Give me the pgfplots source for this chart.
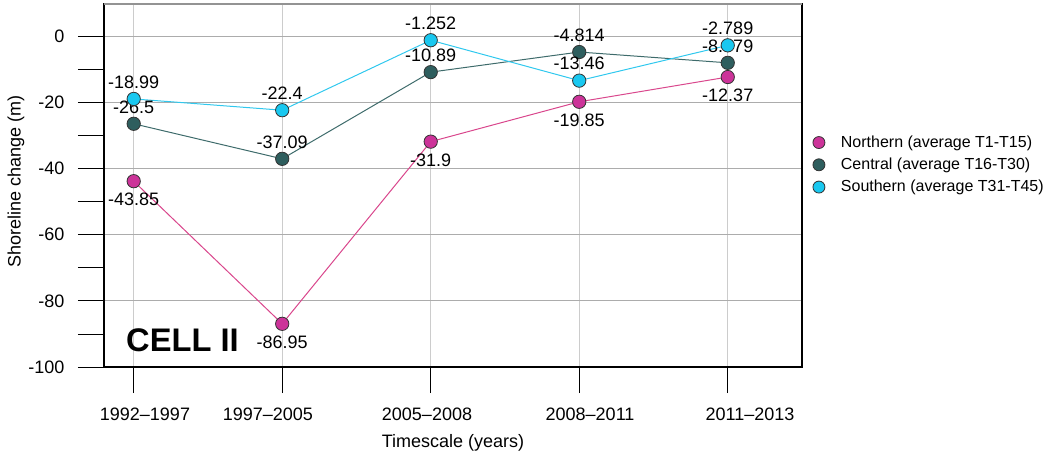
\documentclass[border=0pt]{standalone}
\usepackage{fontspec}
\setmainfont{Liberation Sans}
\usepackage{pgfplots}
\pgfplotsset{compat=1.18}
\usepackage{pgfplotstable}

\definecolor{nline}{HTML}{D9468C}
\definecolor{nfill}{HTML}{CC3399}
\definecolor{cline}{HTML}{3E6B6B}
\definecolor{cfill}{HTML}{2E5E5E}
\definecolor{sline}{HTML}{30C8EE}
\definecolor{sfill}{HTML}{19C8F0}

% x = period index, y = shoreline change, lab = printed value
\pgfplotstableread{
x y lab
0 -43.85 -43.85
1 -86.95 -86.95
2 -31.9 -31.9
3 -19.85 -19.85
4 -12.37 -12.37
}\northern
\pgfplotstableread{
x y lab
0 -26.5 -26.5
1 -37.09 -37.09
2 -10.89 -10.89
3 -4.814 -4.814
4 -8.079 -8.079
}\central
\pgfplotstableread{
x y lab
0 -18.99 -18.99
1 -22.4 -22.4
2 -1.252 -1.252
3 -13.46 -13.46
4 -2.789 -2.789
}\southern

\begin{document}
\begin{tikzpicture}
\begin{axis}[
    at={(0,0)}, anchor=south west,
    scale only axis,
    width=523.5pt, height=272.25pt,
    xmin=-0.2, xmax=4.5,
    ymin=-100, ymax=9.7,
    font=\fontsize{13.5}{16}\selectfont,
    /pgf/number format/assume math mode=true,
    xtick={0,1,2,3,4},
    xticklabels={},
    % period names sit a little off the tick marks, as in the source figure
    extra x ticks={0.076,0.904,1.975,3.073,4.150},
    extra x tick labels={1992--1997,1997--2005,2005--2008,2008--2011,2011--2013},
    extra x tick style={major tick length=0pt, grid=none,
        xticklabel style={yshift=-27pt}},
    ytick={-100,-80,...,0},
    minor ytick={-90,-70,...,-10},
    xtick pos=bottom, ytick pos=left,
    tick align=outside,
    major tick length=19.5pt, minor tick length=19.5pt,
    every tick/.style={black, line width=0.6pt},
    every minor tick/.style={black, line width=0.6pt},
    xmajorgrids, ymajorgrids,
    major x grid style={gray!40, line width=0.6pt},
    major y grid style={gray!65, line width=0.8pt},
    axis line style={black, line width=0.8pt},
    yticklabel style={xshift=-6.75pt},
    xlabel={Timescale (years)},
    ylabel={Shoreline change (m)},
    xlabel style={at={(axis description cs:0.5,-0.209)}, anchor=center},
    ylabel style={at={(axis description cs:-0.126,0.51)}, anchor=center},
    point meta=explicit symbolic,
    every node near coord/.append style={font=\fontsize{13.5}{16}\selectfont, inner sep=0pt, black},
    legend image code/.code={\draw[#1, mark size=4.5pt] plot coordinates {(0pt,0pt)};},
    legend cell align=left,
    legend style={at={(axis description cs:1,0.557)}, anchor=west, xshift=5pt,
        draw=none, fill=none, font=\fontsize{12}{14.5}\selectfont,
        row sep=2.5pt, /tikz/every odd column/.append style={column sep=10pt}},
    mark size=5pt,
]
\addplot[nline, line width=0.75pt, mark=*, mark options={fill=nfill, draw=black!80, line width=0.6pt},
    nodes near coords, every node near coord/.append style={anchor=base, yshift=-18.4pt}]
    table[x=x, y=y, meta=lab] {\northern};
\addlegendentry{Northern (average T1-T15)}
\addplot[cline, line width=0.75pt, mark=*, mark options={fill=cfill, draw=black!80, line width=0.6pt},
    nodes near coords, every node near coord/.append style={anchor=base, yshift=8pt}]
    table[x=x, y=y, meta=lab] {\central};
\addlegendentry{Central (average T16-T30)}
\addplot[sline, line width=0.75pt, mark=*, mark options={fill=sfill, draw=black!80, line width=0.6pt},
    nodes near coords, every node near coord/.append style={anchor=base, yshift=8pt}]
    table[x=x, y=y, meta=lab] {\southern};
\addlegendentry{Southern (average T31-T45)}
\draw[gray!85, line width=0.8pt] (rel axis cs:0,1) -- (rel axis cs:1,1);
\node[anchor=base west, inner sep=0pt, font=\fontsize{24.5}{28}\selectfont\bfseries]
    at (axis cs:-0.052,-95.2) {CELL II};
\end{axis}
\pgfresetboundingbox
\path[use as bounding box] (-78pt,-69.75pt) rectangle (708pt,275.25pt);
\end{tikzpicture}
\end{document}
